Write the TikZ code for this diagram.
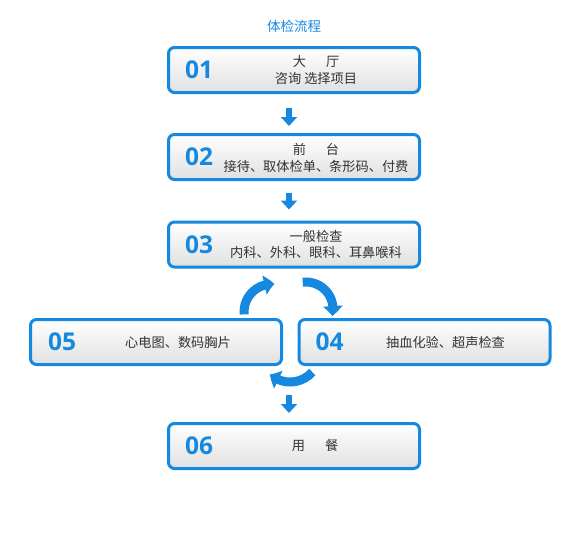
\documentclass[tikz,border=0pt]{standalone}
\usepackage{fontspec}
\setmainfont{Open Sans}
\newfontfamily\cjk{Noto Sans CJK SC}
\usetikzlibrary{arrows.meta,shadows,bending}
\definecolor{myblue}{HTML}{1589E0}
\definecolor{txtgray}{HTML}{333333}
\begin{document}
\begin{tikzpicture}[x=1pt,y=1pt,
  stepbox/.style={draw=myblue, line width=3pt, rounded corners=6pt,
    top color=white, bottom color=black!12,
    minimum width=251pt, minimum height=45pt, inner sep=0pt,
    drop shadow={opacity=0.12, shadow xshift=0pt, shadow yshift=-1.5pt}},
  num/.style={font=\fontsize{24.5}{24.5}\selectfont\bfseries, text=myblue},
  lbl/.style={font=\cjk\fontsize{13.2}{16.5}\selectfont, text=txtgray, align=center, inner sep=0pt},
  downarr/.style={draw=myblue, line width=6pt, -{Triangle[width=16pt,length=9pt]}},
  swirl/.style={draw=myblue, line width=9pt, -{Triangle[width=19pt,length=10pt,bend]}}]
\useasboundingbox (0,0) rectangle (576,-538);

\node[font=\cjk\fontsize{13.5}{13.5}\selectfont, text=myblue] (title) at (294,-26) {体检流程};

\node[stepbox] (b1) at (294,-70) {};
\node[stepbox] (b2) at (294,-157) {};
\node[stepbox] (b3) at (294,-244.5) {};
\node[stepbox] (b5) at (156,-342) {};
\node[stepbox] (b4) at (424.5,-342) {};
\node[stepbox] (b6) at (294,-446) {};

\node[num] (n1) at ([xshift=32pt]b1.west) {01};
\node[num] (n2) at ([xshift=32pt]b2.west) {02};
\node[num] (n3) at ([xshift=32pt]b3.west) {03};
\node[num] (n5) at ([xshift=33pt]b5.west) {05};
\node[num] (n4) at ([xshift=32pt]b4.west) {04};
\node[num] (n6) at ([xshift=32pt]b6.west) {06};

\node[lbl] (t1) at ([xshift=22pt]b1.center) {大\hspace{20pt}厅\\咨询 选择项目};
\node[lbl] (t2) at ([xshift=22pt,yshift=-1pt]b2.center) {前\hspace{20pt}台\\接待、取体检单、条形码、付费};
\node[lbl] (t3) at ([xshift=22pt]b3.center) {一般检查\\内科、外科、眼科、耳鼻喉科};
\node[lbl] (t5) at ([xshift=22pt]b5.center) {心电图、数码胸片};
\node[lbl] (t4) at ([xshift=21pt]b4.center) {抽血化验、超声检查};
\node[lbl] (t6) at ([xshift=21pt]b6.center) {用\hspace{20pt}餐};

\draw[downarr] ([xshift=-5pt,yshift=-14pt]b1.south) -- ([xshift=-5pt,yshift=7pt]b2.north);
\draw[downarr] ([xshift=-5pt,yshift=-12pt]b2.south) -- ([xshift=-5pt,yshift=11pt]b3.north);

\coordinate (ca) at (272,-312);
\coordinate (cb) at (306,-309);
\coordinate (cc) at (290,-352);
\draw[swirl] ([shift={(185:28pt)}]ca) arc[start angle=185, end angle=85, radius=28];
\draw[swirl] ([shift={(97:27pt)}]cb) arc[start angle=97, end angle=-15, radius=27];
\draw[swirl] ([shift={(-42:30pt)}]cc) arc[start angle=-42, end angle=-132, radius=30];

\coordinate (s3) at (289,-395);
\draw[downarr] (s3) -- ([xshift=-5pt,yshift=9pt]b6.north);
\end{tikzpicture}
\end{document}
